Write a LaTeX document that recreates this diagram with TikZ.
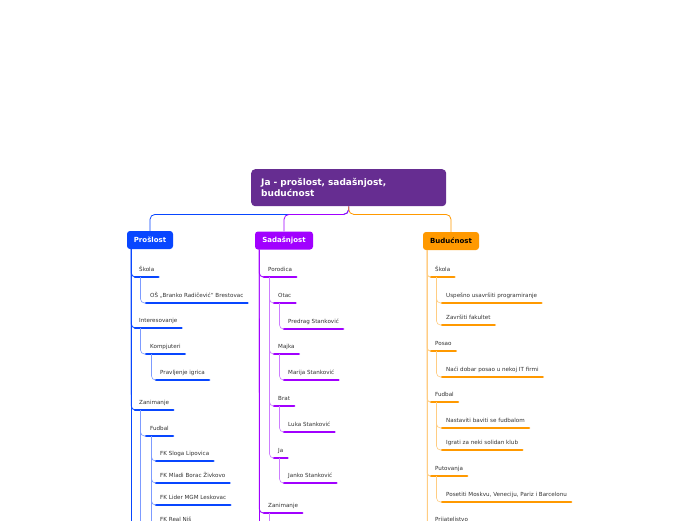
\documentclass[tikz,border=0pt]{standalone}
\usepackage{fontspec}
\setmainfont{DejaVu Sans}
\usetikzlibrary{calc}
\definecolor{rootC}{RGB}{102,45,145}
\definecolor{blueC}{RGB}{8,70,255}
\definecolor{blueL}{RGB}{125,155,255}
\definecolor{purpC}{RGB}{161,0,255}
\definecolor{purpL}{RGB}{205,125,255}
\definecolor{oranC}{RGB}{255,153,0}
\definecolor{oranL}{RGB}{255,205,130}
\definecolor{txtC}{RGB}{51,51,51}
\tikzset{
  leaf/.style={font=\fontsize{5.6}{6.5}\selectfont, text=txtC, inner xsep=4pt, inner ysep=4.5pt,
    text height=4pt, text depth=1.1pt, anchor=south west,
    append after command={(\tikzlastnode.south west) edge[draw=#1, line width=2.6pt, line cap=round] (\tikzlastnode.south east)}},
  branch/.style={fill=#1, rounded corners=3pt, minimum height=18pt, inner sep=0pt,
    font=\bfseries\fontsize{7}{8}\selectfont, text=white},
  link/.style={draw=#1, line width=0.8pt, rounded corners=4pt},
  sub/.style={draw=#1, line width=0.6pt, rounded corners=4pt},
}
\begin{document}
\begin{tikzpicture}[x=1pt,y=-1pt]
\useasboundingbox (0,0) rectangle (696,520);
\clip (0,0) rectangle (696,520);
\fill[white] (0,0) rectangle (696,520);
% root
\node[fill=rootC, rounded corners=4pt, anchor=north west, minimum width=195pt, minimum height=37pt,
  text width=175pt, inner xsep=10pt, inner ysep=0pt, align=left, text=white,
  font=\bfseries\fontsize{9}{11}\selectfont] (root) at (251,169)
  {Ja - prošlost, sadašnjost,\\budućnost};
% branches
\node[branch=blueC, minimum width=46pt] (pr) at (150,240) {Prošlost};
\node[branch=purpC, minimum width=58pt] (sa) at (284,240.5) {Sadašnjost};
\node[branch=oranC, minimum width=56pt, text=black] (bu) at (451,241) {Budućnost};
\draw[link=blueC, rounded corners=5pt] (root.south) -- ++(0,8) -| (pr.north);
\draw[link=purpC, rounded corners=5pt] (root.south) -- ++(0,8) -| (sa.north);
\draw[link=oranC, rounded corners=5pt] (root.south) -- ++(0,8) -| (bu.north);

% ---------- Prošlost ----------
\node[leaf=blueC] (p1) at (135,277) {Škola};
\node[leaf=blueC] (p11) at (146,303) {OŠ „Branko Radičević“ Brestovac};
\node[leaf=blueC] (p2) at (135,328) {Interesovanje};
\node[leaf=blueC] (p21) at (146,354) {Kompjuteri};
\node[leaf=blueC] (p211) at (156,380) {Pravljenje igrica};
\node[leaf=blueC] (p3) at (135,410) {Zanimanje};
\node[leaf=blueC] (p31) at (146,436) {Fudbal};
\node[leaf=blueC] (p311) at (156,461) {FK Sloga Lipovica};
\node[leaf=blueC] (p312) at (156,483) {FK Mladi Borac Živkovo};
\node[leaf=blueC] (p313) at (156,505) {FK Lider MGM Leskovac};
\node[leaf=blueC] (p314) at (156,527) {FK Real Niš};
\coordinate (pbot) at (131.5,545);
\coordinate (p3bot) at (140.5,545);
\draw[link=blueC] ([xshift=4.5pt]pr.south west) -- (pbot);
\foreach \c in {p1,p2,p3} \draw[link=blueC] ([xshift=4.5pt]pr.south west) |- (\c.south west);
\draw[sub=blueL] ([xshift=5.5pt]p1.south west) |- (p11.south west);
\draw[sub=blueL] ([xshift=5.5pt]p2.south west) |- (p21.south west);
\draw[sub=blueL] ([xshift=5.5pt]p21.south west) |- (p211.south west);
\draw[sub=blueL] ([xshift=5.5pt]p3.south west) -- (p3bot);
\draw[sub=blueL] ([xshift=5.5pt]p3.south west) |- (p31.south west);
\foreach \c in {p311,p312,p313,p314} \draw[sub=blueL] ([xshift=5.5pt]p31.south west) |- (\c.south west);

% ---------- Sadašnjost ----------
\node[leaf=purpC] (s1) at (264,277) {Porodica};
\node[leaf=purpC] (s11) at (274,303) {Otac};
\node[leaf=purpC] (s111) at (284,329) {Predrag Stanković};
\node[leaf=purpC] (s12) at (274,354) {Majka};
\node[leaf=purpC] (s121) at (284,380) {Marija Stanković};
\node[leaf=purpC] (s13) at (274,406) {Brat};
\node[leaf=purpC] (s131) at (284,432) {Luka Stanković};
\node[leaf=purpC] (s14) at (274,458) {Ja};
\node[leaf=purpC] (s141) at (284,483) {Janko Stanković};
\node[leaf=purpC] (s2) at (264,513) {Zanimanje};
\coordinate (sbot) at (259.5,545);
\coordinate (s2bot) at (269.5,545);
\draw[link=purpC] ([xshift=4.5pt]sa.south west) -- (sbot);
\foreach \c in {s1,s2} \draw[link=purpC] ([xshift=4.5pt]sa.south west) |- (\c.south west);
\foreach \c in {s11,s12,s13,s14} \draw[sub=purpL] ([xshift=5.5pt]s1.south west) |- (\c.south west);
\draw[sub=purpL] ([xshift=5.5pt]s11.south west) |- (s111.south west);
\draw[sub=purpL] ([xshift=5.5pt]s12.south west) |- (s121.south west);
\draw[sub=purpL] ([xshift=5.5pt]s13.south west) |- (s131.south west);
\draw[sub=purpL] ([xshift=5.5pt]s14.south west) |- (s141.south west);
\draw[sub=purpL] ([xshift=5.5pt]s2.south west) -- (s2bot);

% ---------- Budućnost ----------
\node[leaf=oranC] (b1) at (431,277) {Škola};
\node[leaf=oranC] (b11) at (442,303) {Uspešno usavršiti programiranje};
\node[leaf=oranC] (b12) at (442,325) {Završiti fakultet};
\node[leaf=oranC] (b2) at (431,351) {Posao};
\node[leaf=oranC] (b21) at (442,377) {Naći dobar posao u nekoj IT firmi};
\node[leaf=oranC] (b3) at (431,402) {Fudbal};
\node[leaf=oranC] (b31) at (442,428) {Nastaviti baviti se fudbalom};
\node[leaf=oranC] (b32) at (442,450) {Igrati za neki solidan klub};
\node[leaf=oranC] (b4) at (431,476) {Putovanja};
\node[leaf=oranC] (b41) at (442,502) {Posetiti Moskvu, Veneciju, Pariz i Barcelonu};
\node[leaf=oranC] (b5) at (431,527) {Prijateljstvo};
\coordinate (bbot) at (427.5,545);
\draw[link=oranL] ([xshift=4.5pt]bu.south west) -- (bbot);
\foreach \c in {b1,b2,b3,b4,b5} \draw[link=oranL, rounded corners=3pt] ([xshift=4.5pt]bu.south west) |- (\c.south west);
\foreach \c in {b11,b12} \draw[sub=oranL] ([xshift=5.5pt]b1.south west) |- (\c.south west);
\draw[sub=oranL] ([xshift=5.5pt]b2.south west) |- (b21.south west);
\foreach \c in {b31,b32} \draw[sub=oranL] ([xshift=5.5pt]b3.south west) |- (\c.south west);
\draw[sub=oranL] ([xshift=5.5pt]b4.south west) |- (b41.south west);
\end{tikzpicture}
\end{document}
